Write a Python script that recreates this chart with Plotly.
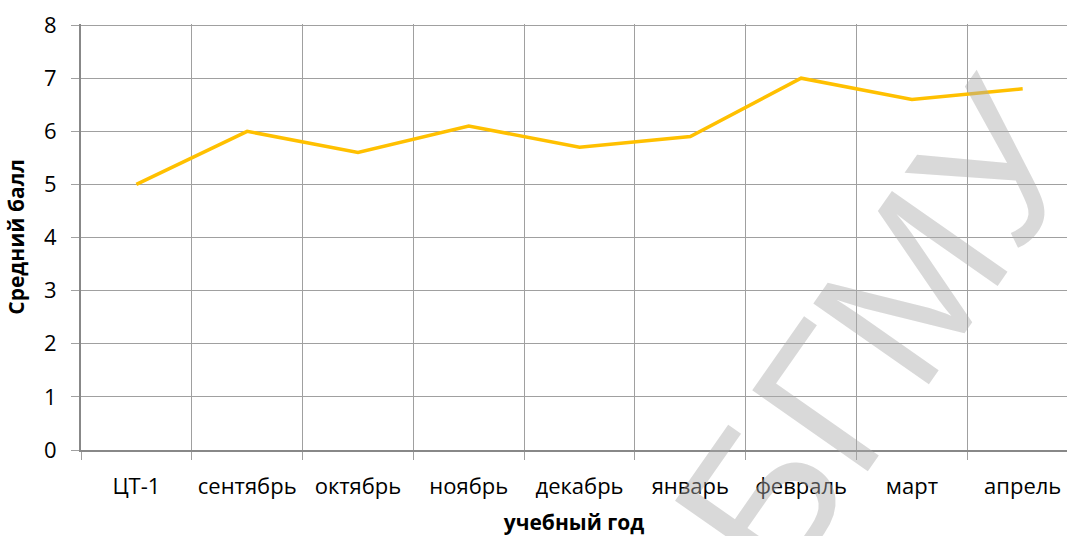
import plotly.graph_objects as go

categories = ["ЦТ-1", "сентябрь", "октябрь", "ноябрь", "декабрь", "январь", "февраль", "март", "апрель"]
scores = [5.0, 6.0, 5.6, 6.1, 5.7, 5.9, 7.0, 6.6, 6.8]
y_ticks = [0, 1, 2, 3, 4, 5, 6, 7, 8]

FONT = "Open Sans"

fig = go.Figure()
fig.add_trace(go.Scatter(
    x=categories, y=scores, mode="lines",
    line=dict(color="#FFC000", width=3.5),
    hoverinfo="x+y", showlegend=False,
))

fig.add_annotation(
    text="БГМУ", xref="paper", yref="paper", x=0.809, y=0.277,
    xanchor="center", yanchor="middle",
    showarrow=False, textangle=-55,
    font=dict(family="Liberation Sans", size=205, color="rgba(170,170,170,0.45)"),
)

fig.update_layout(
    width=1067, height=536,
    margin=dict(l=81, r=0, t=24, b=86, autoexpand=False),
    paper_bgcolor="white", plot_bgcolor="white",
    font=dict(family=FONT, size=22, color="#000000"),
    xaxis=dict(
        type="category", range=[-0.5, 8.4],
        tickson="boundaries", showgrid=True, gridcolor="#A0A0A0", gridwidth=1,
        showline=True, linecolor="#888888", linewidth=2,
        ticks="outside", ticklen=8, tickcolor="#A0A0A0",
        ticklabelstandoff=16, automargin=False,
        title=dict(text="<b>учебный год</b>", font=dict(size=21), standoff=16),
        zeroline=False,
    ),
    yaxis=dict(
        range=[0, 8.02], tickvals=y_ticks,
        showgrid=True, gridcolor="#A0A0A0", gridwidth=1,
        showline=True, linecolor="#888888", linewidth=2,
        ticks="outside", ticklen=8, tickcolor="#A0A0A0",
        ticklabelstandoff=10, automargin=False,
        title=dict(text="<b>Средний балл</b>", font=dict(size=21), standoff=14),
        zeroline=False,
    ),
)

fig.write_html(
    "out.html",
    config={"displayModeBar": False},
    post_script="document.body.style.margin='0';document.body.style.padding='0';",
)
